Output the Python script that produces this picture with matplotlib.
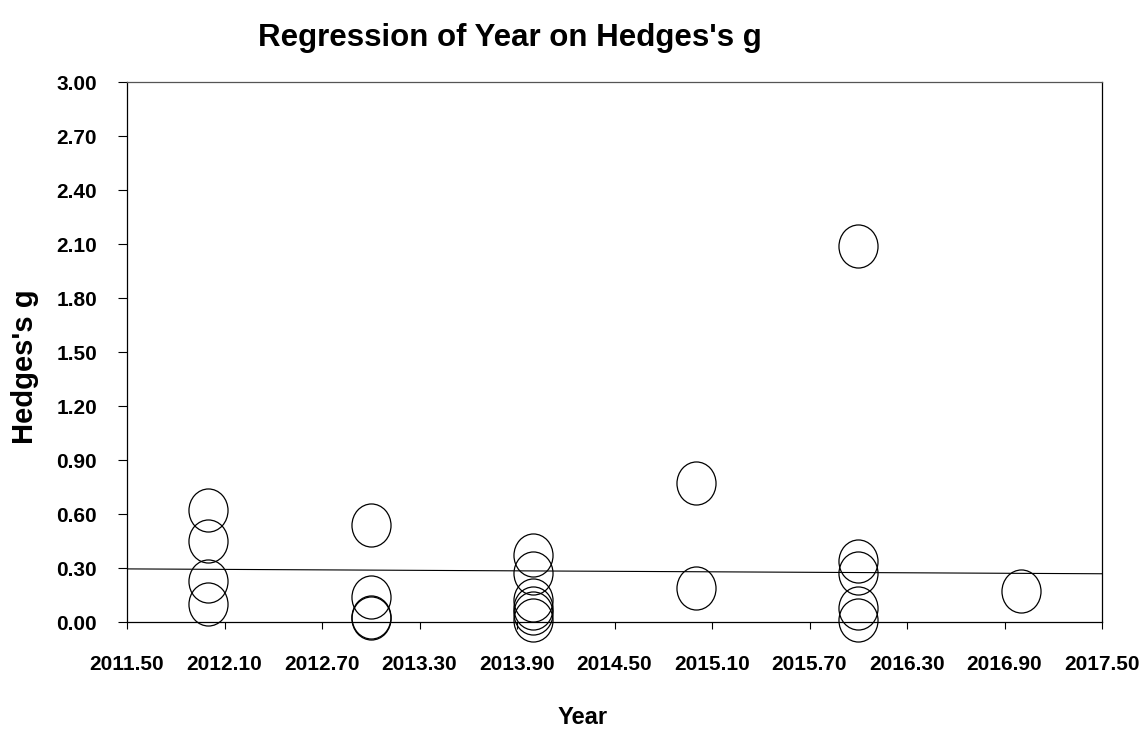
import numpy as np
import matplotlib
matplotlib.use("Agg")
import matplotlib.pyplot as plt
from matplotlib.path import Path
from matplotlib.transforms import Affine2D

plt.rcParams['font.family'] = ['Liberation Sans', 'DejaVu Sans']

# Study-level effect sizes grouped by publication year
years_2012 = [0.62, 0.45, 0.23, 0.10]
years_2013 = [0.54, 0.14, 0.03, 0.025]
years_2014 = [0.37, 0.27, 0.12, 0.08, 0.05, 0.01]
years_2015 = [0.77, 0.19]
years_2016 = [2.09, 0.34, 0.27, 0.08, 0.01]
years_2017 = [0.17]

groups = {2012: years_2012, 2013: years_2013, 2014: years_2014,
          2015: years_2015, 2016: years_2016, 2017: years_2017}

# Fitted regression line at the ends of the x range
line_x = [2011.5, 2017.5]
line_y = [0.295, 0.268]

x_ticks = [2011.50, 2012.10, 2012.70, 2013.30, 2013.90, 2014.50,
           2015.10, 2015.70, 2016.30, 2016.90, 2017.50]
y_ticks = [0.00, 0.30, 0.60, 0.90, 1.20, 1.50, 1.80, 2.10, 2.40, 2.70, 3.00]

year = np.concatenate([[k] * len(v) for k, v in groups.items()])
g = np.concatenate([v for v in groups.values()])

fig = plt.figure(figsize=(11.4, 7.35), dpi=100)
ax = fig.add_axes([127 / 1140, 1 - 622 / 735, (1102 - 127) / 1140, (622 - 82) / 735])

# slightly tall open ellipse marker
ellipse = Path.unit_circle().transformed(Affine2D().scale(0.907, 1.0))

ax.plot(line_x, line_y, color='black', lw=0.8, zorder=2)
ax.plot(year, g, linestyle='none', marker=ellipse, markersize=31,
        markerfacecolor='none', markeredgecolor='black', markeredgewidth=0.9,
        zorder=3, clip_on=False)

ax.set_xlim(2011.5, 2017.5)
ax.set_ylim(0, 3.0)
ax.set_xticks(x_ticks)
ax.set_xticklabels([f"{t:.2f}" for t in x_ticks])
ax.set_yticks(y_ticks)
ax.set_yticklabels([f"{t:.2f}" for t in y_ticks])

for lab in ax.get_xticklabels() + ax.get_yticklabels():
    lab.set_fontweight('bold')
    lab.set_fontsize(15)

ax.tick_params(axis='y', direction='out', length=6.5, width=0.8, pad=15)
ax.tick_params(axis='x', direction='out', length=5, width=0.8, pad=19)

for side in ['left', 'bottom', 'right']:
    ax.spines[side].set_linewidth(0.9)
    ax.spines[side].set_color('black')
ax.spines['top'].set_linewidth(0.9)
ax.spines['top'].set_color('#555555')

fig.text(510 / 1140, 1 - 38 / 735, "Regression of Year on Hedges's g",
         ha='center', va='center', fontsize=22.5, fontweight='bold')
fig.text(583 / 1140, 1 - 717 / 735, "Year",
         ha='center', va='center', fontsize=17, fontweight='bold')
fig.text(25 / 1140, 1 - 367 / 735, "Hedges's g", rotation=90,
         ha='center', va='center', fontsize=21, fontweight='bold')

fig.savefig("out.png", dpi=100)
